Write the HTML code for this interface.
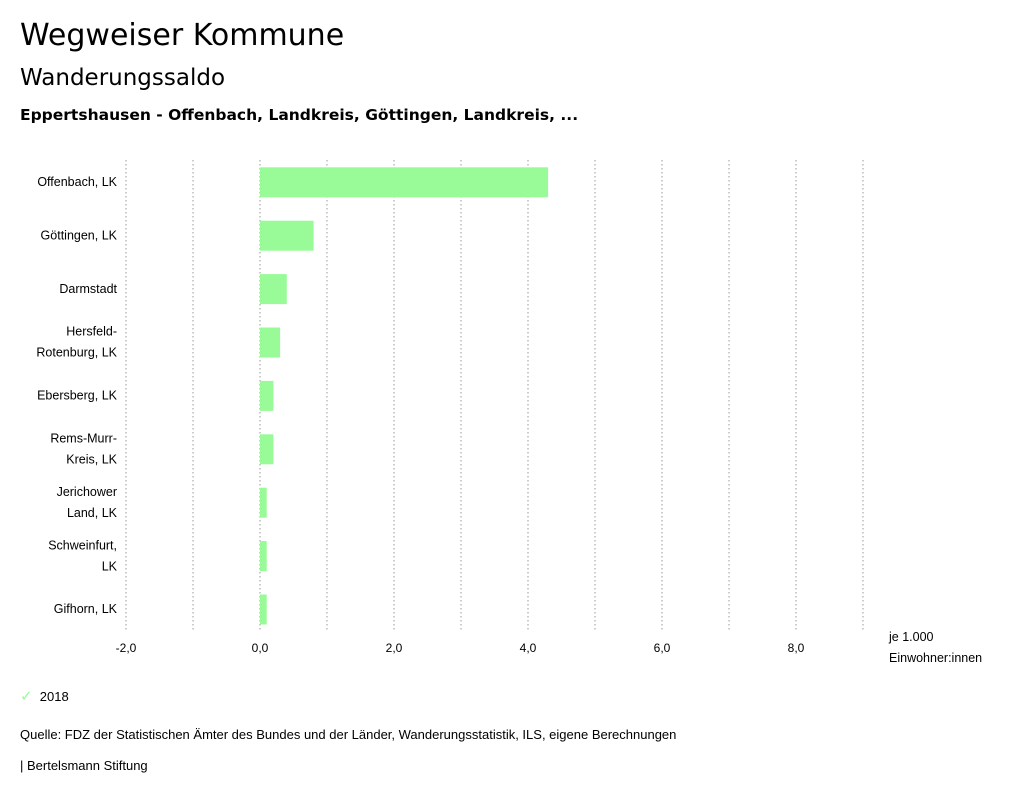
<!DOCTYPE html>
<html><head><meta charset="utf-8"><style>
body{margin:0;width:1024px;height:798px;background:#fff;font-family:"Liberation Sans",sans-serif;color:#000;position:relative;overflow:hidden}
.t{position:absolute;white-space:nowrap}
</style></head><body>
<div class="t" style="left:20px;top:18px;font-size:30px;font-family:'DejaVu Sans',sans-serif">Wegweiser Kommune</div>
<div class="t" style="left:20px;top:65px;font-size:23px;font-family:'DejaVu Sans',sans-serif">Wanderungssaldo</div>
<div class="t" style="left:20px;top:106px;font-size:15.5px;font-weight:bold;font-family:'DejaVu Sans',sans-serif">Eppertshausen - Offenbach, Landkreis, Göttingen, Landkreis, ...</div>
<svg id="c" width="1024" height="798" style="position:absolute;left:0;top:0"></svg>
<div class="t" style="left:20px;top:687px;font-size:13px"><span style="color:#98fb98;font-size:15px">✓</span>&nbsp;&nbsp;2018</div>
<div class="t" style="left:20px;top:727px;font-size:13px">Quelle: FDZ der Statistischen Ämter des Bundes und der Länder, Wanderungsstatistik, ILS, eigene Berechnungen</div>
<div class="t" style="left:20px;top:758px;font-size:13px">| Bertelsmann Stiftung</div>
<script>
const categories=[["Offenbach, LK"],["Göttingen, LK"],["Darmstadt"],["Hersfeld-","Rotenburg, LK"],["Ebersberg, LK"],["Rems-Murr-","Kreis, LK"],["Jerichower","Land, LK"],["Schweinfurt,","LK"],["Gifhorn, LK"]];
const values2018=[4.3,0.8,0.4,0.3,0.2,0.2,0.1,0.1,0.1];
const tickValues=[-2,0,2,4,6,8];
const tickLabels=["-2,0","0,0","2,0","4,0","6,0","8,0"];
const gridValues=[-2,-1,0,1,2,3,4,5,6,7,8,9];
const svg=document.getElementById('c'),NS="http://www.w3.org/2000/svg";
const x=v=>260+v*67;
const top0=155.3,band=53.4;
const y=i=>top0+i*band;
function mk(t,a){const e=document.createElementNS(NS,t);for(const k in a)e.setAttribute(k,a[k]);svg.appendChild(e);return e;}
gridValues.forEach(v=>{
 const l=mk('line',{x1:x(v),x2:x(v),y1:160,y2:632,stroke:'#999','stroke-dasharray':'1.5,2.5','stroke-width':1});
 
 
});
tickValues.forEach((v,i)=>{
 const t=mk('text',{x:x(v),y:652,'text-anchor':'middle','font-size':12,'font-family':'Liberation Sans'});
 t.textContent=tickLabels[i];
 
 
});
values2018.forEach((v,i)=>{
 const r=mk('rect',{x:Math.min(x(0),x(v)),y:y(i)+12,width:Math.abs(x(v)-x(0)),height:30,fill:'#98fb98'});
 
 
 const lines=categories[i],cy=y(i)+band/2;
 lines.forEach((s,j)=>{
  const t=mk('text',{x:117,y:cy+4+(j-(lines.length-1)/2)*21,'text-anchor':'end','font-size':12.5,'font-family':'Liberation Sans'});
  t.textContent=s;
  
  
 });
});
[["je 1.000",641],["Einwohner:innen",662]].forEach(a=>{
 const t=mk('text',{x:889,y:a[1],'font-size':12.5,'font-family':'Liberation Sans'});
 t.textContent=a[0];
 
 
});
</script>
</body></html>
